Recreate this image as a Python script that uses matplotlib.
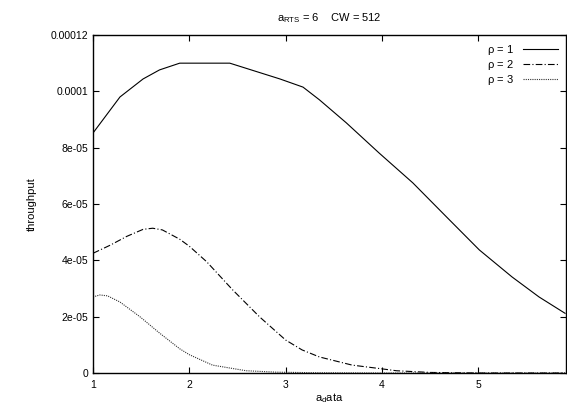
import matplotlib
matplotlib.use("Agg")
import matplotlib.pyplot as plt
from matplotlib.ticker import FixedLocator

plt.rcParams['font.family'] = ['Liberation Sans', 'DejaVu Sans']

# Data
x_rho1 = [1.0, 1.28, 1.52, 1.69, 1.90, 2.42, 2.94, 3.18, 3.35, 3.63, 3.97, 4.32, 4.67,
          5.01, 5.35, 5.63, 5.90]
y_rho1 = [8.52e-5, 9.80e-5, 1.044e-4, 1.076e-4, 1.10e-4, 1.10e-4, 1.044e-4, 1.015e-4,
          9.70e-5, 8.88e-5, 7.81e-5, 6.75e-5, 5.54e-5, 4.37e-5, 3.41e-5, 2.70e-5, 2.12e-5]

x_rho2 = [1.0, 1.18, 1.35, 1.52, 1.62, 1.72, 1.90, 2.00, 2.18, 2.45, 2.73, 3.00, 3.17,
          3.35, 3.69, 3.97, 4.15, 4.5, 5.0, 5.9]
y_rho2 = [4.25e-5, 4.54e-5, 4.85e-5, 5.10e-5, 5.14e-5, 5.08e-5, 4.75e-5, 4.50e-5, 3.95e-5,
          2.95e-5, 1.99e-5, 1.17e-5, 8.2e-6, 5.7e-6, 2.8e-6, 1.6e-6, 0.8e-6, 0.2e-6, 0.0, 0.0]

x_rho3 = [1.0, 1.07, 1.15, 1.28, 1.49, 1.69, 1.90, 2.00, 2.24, 2.59, 2.9, 3.3, 4.0, 5.9]
y_rho3 = [2.70e-5, 2.77e-5, 2.74e-5, 2.52e-5, 1.99e-5, 1.42e-5, 8.6e-6, 6.5e-6, 2.8e-6,
          0.8e-6, 0.3e-6, 0.1e-6, 0.0, 0.0]

labels = [r'$\mathregular{\rho}$ = 1', r'$\mathregular{\rho}$ = 2', r'$\mathregular{\rho}$ = 3']
x_ticks = [1, 2, 3, 4, 5]
y_ticks = [0, 2e-5, 4e-5, 6e-5, 8e-5, 1e-4, 1.2e-4]
y_tick_labels = ['0', '2e-05', '4e-05', '6e-05', '8e-05', '0.0001', '0.00012']

fig = plt.figure(figsize=(5.67, 4.07), dpi=100)
ax = fig.add_axes([93/567, 1 - 373/407, 1 - 93/567 - 1/567, (373 - 35)/407])

ax.plot(x_rho1, y_rho1, color='black', lw=0.8, ls='-', label=labels[0])
ax.plot(x_rho2, y_rho2, color='black', lw=0.8, dashes=(6, 2, 1, 2), label=labels[1])
ax.plot(x_rho3, y_rho3, color='#333333', lw=0.8, ls=(0, (1, 1)), label=labels[2])

ax.set_xlim(1, 5.91)
ax.set_ylim(0, 1.2e-4)
ax.xaxis.set_major_locator(FixedLocator(x_ticks))
ax.set_xticklabels([str(t) for t in x_ticks])
ax.yaxis.set_major_locator(FixedLocator(y_ticks))
ax.set_yticklabels(y_tick_labels)
ax.tick_params(direction='in', top=True, right=True, labelsize=7.5, length=4, width=0.8)
ax.tick_params(axis='x', pad=5)
for s in ax.spines.values():
    s.set_linewidth(1.0)

ax.set_xlabel(r'$\mathregular{a_d ata}$', fontsize=8, labelpad=1)
ax.set_ylabel('throughput', fontsize=8, labelpad=10)
ax.set_title(r'$\mathregular{a_{RTS}}$ = 6    CW = 512', fontsize=8, pad=10, x=0.50)

ax.legend(loc='upper right', frameon=False, fontsize=8, handlelength=3.2,
          labelspacing=0.1, markerfirst=False, borderaxespad=0.3, handletextpad=0.8)

fig.savefig('out.png', dpi=100)
